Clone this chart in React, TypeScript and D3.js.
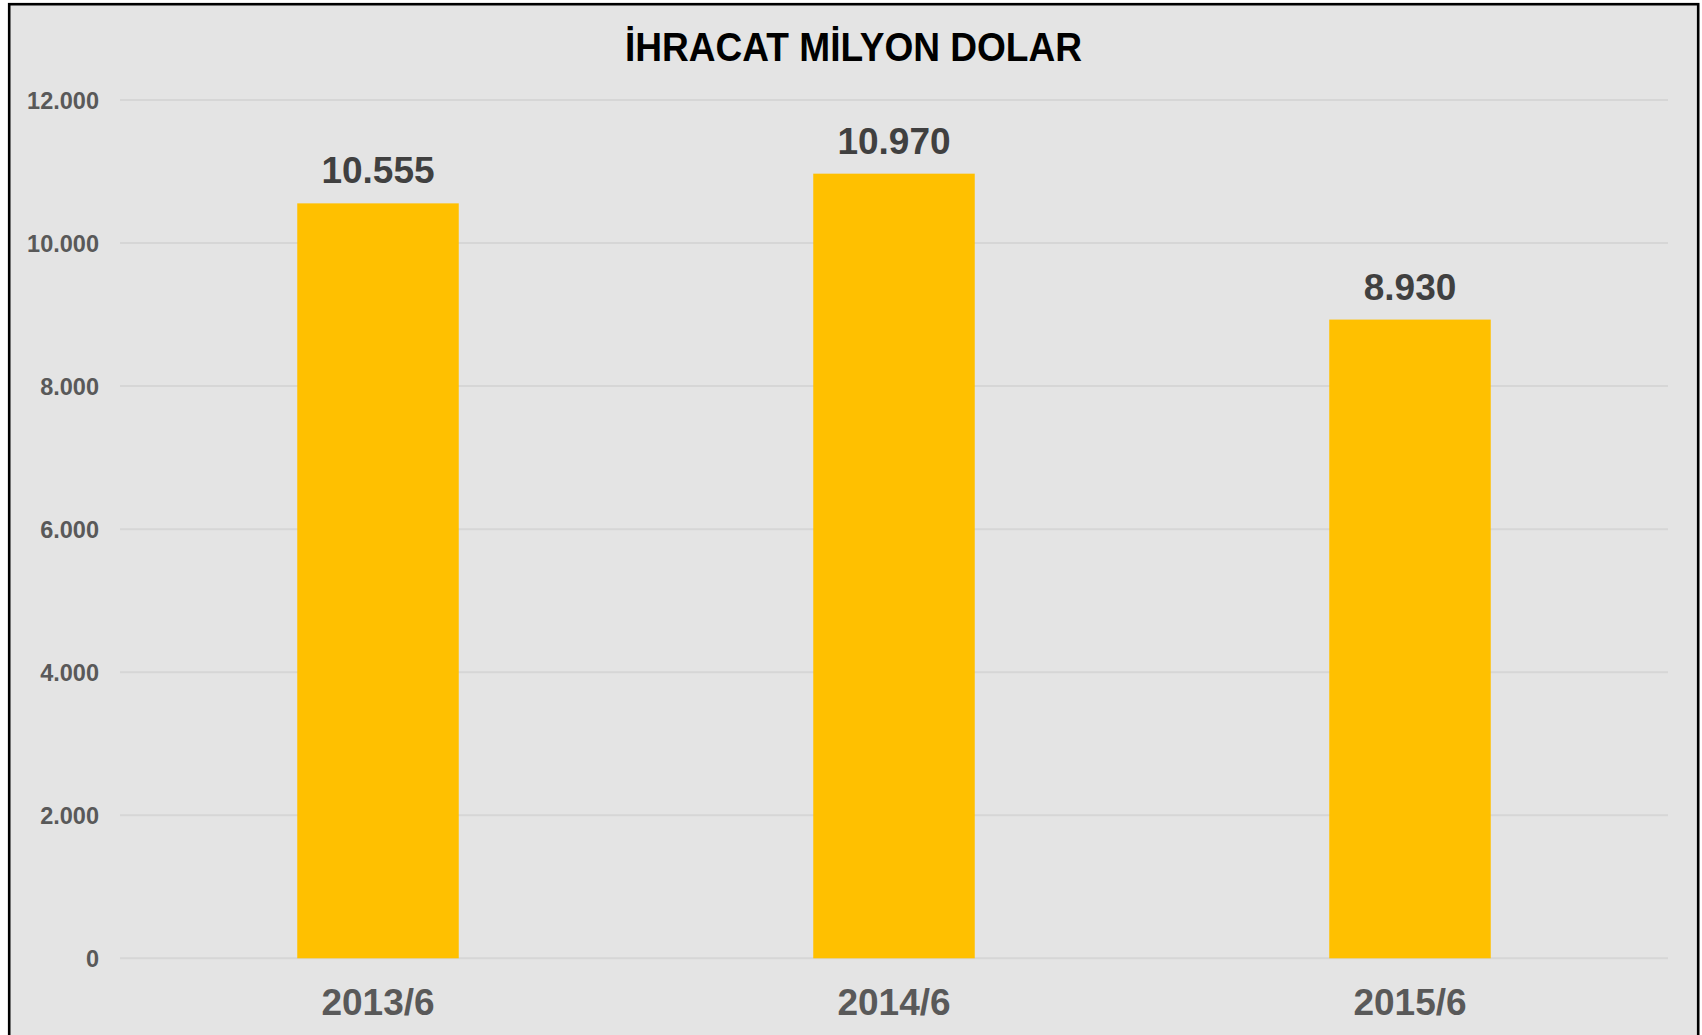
import React from "react";
import * as d3 from "d3";

const categories = ["2013/6", "2014/6", "2015/6"];
const values = [10555, 10970, 8930];
const yTicks = [0, 2000, 4000, 6000, 8000, 10000, 12000];
const title = "İHRACAT MİLYON DOLAR";

const W = 1702;
const H = 1035;
const FONT = "'Liberation Sans', Arial, Helvetica, sans-serif";

const fmt = (v: number) => d3.format(",")(v).replace(/,/g, ".");

export default function App() {
  const plotLeft = 120;
  const plotRight = 1668;
  const plotTop = 100;
  const plotBottom = 958.3;

  const x = d3
    .scaleBand<string>()
    .domain(categories)
    .range([plotLeft, plotRight])
    .paddingInner(0.687)
    .paddingOuter(0.3435);
  const y = d3.scaleLinear().domain([0, 12000]).range([plotBottom, plotTop]);

  return (
    <svg
      width={W}
      height={H}
      style={{ position: "absolute", left: 0, top: 0, background: "#ffffff" }}
    >
      <rect x={9.2} y={4.2} width={1689} height={H + 10} fill="#e4e4e4" stroke="#000" strokeWidth={2.6} />
      <text
        x={853.5}
        y={61}
        textAnchor="middle"
        fontFamily={FONT}
        fontWeight="bold"
        fontSize={40}
        textLength={457}
        lengthAdjust="spacingAndGlyphs"
        fill="#000"
      >
        {title}
      </text>
      {yTicks.map((t) => (
        <g key={t}>
          <line x1={plotLeft} x2={plotRight} y1={y(t)} y2={y(t)} stroke="#d6d6d6" strokeWidth={2} />
          <text
            x={99}
            y={y(t) + 8.5}
            textAnchor="end"
            fontFamily={FONT}
            fontWeight="bold"
            fontSize={23.5}
            fill="#595959"
          >
            {fmt(t)}
          </text>
        </g>
      ))}
      {categories.map((c, i) => (
        <g key={c}>
          <rect
            x={x(c)!}
            y={y(values[i])}
            width={x.bandwidth()}
            height={plotBottom - y(values[i])}
            fill="#FFC000"
          />
          <text
            x={x(c)! + x.bandwidth() / 2}
            y={y(values[i]) - 20}
            textAnchor="middle"
            fontFamily={FONT}
            fontWeight="bold"
            fontSize={37}
            fill="#404040"
          >
            {fmt(values[i])}
          </text>
          <text
            x={x(c)! + x.bandwidth() / 2}
            y={1015}
            textAnchor="middle"
            fontFamily={FONT}
            fontWeight="bold"
            fontSize={37}
            fill="#595959"
          >
            {c}
          </text>
        </g>
      ))}
    </svg>
  );
}
